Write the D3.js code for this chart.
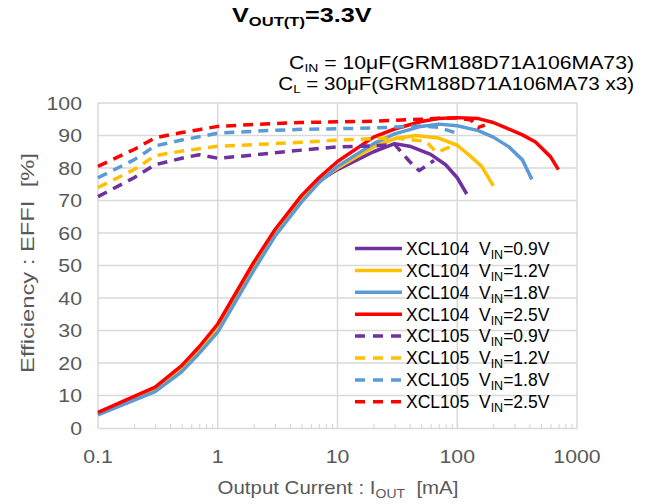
<!DOCTYPE html>
<html><head><meta charset="utf-8">
<script src="https://cdn.jsdelivr.net/npm/d3@7"></script>
<style>
body{margin:0;background:#fff;}
svg{display:block;font-family:"Liberation Sans",Arial,sans-serif;}
</style>
</head><body>
<svg id="c" width="653" height="504" xml:space="preserve"></svg>
<script>
// ---------- data ----------
const xTicks = [0.1, 1, 10, 100, 1000];
const xTickLabels = ["0.1", "1", "10", "100", "1000"];
const yTicks = [0, 10, 20, 30, 40, 50, 60, 70, 80, 90, 100];
const yTickLabels = ["0", "10", "20", "30", "40", "50", "60", "70", "80", "90", "100"];

const seriesDevice = ["XCL104", "XCL104", "XCL104", "XCL104", "XCL105", "XCL105", "XCL105", "XCL105"];
const seriesVin = ["0.9V", "1.2V", "1.8V", "2.5V", "0.9V", "1.2V", "1.8V", "2.5V"];

// XCL104 (solid)
const cur104_09 = [0.1, 0.3, 0.5, 0.7, 1, 2, 3, 5, 7, 10, 20, 30, 40, 60, 80, 100, 120];
const eff104_09 = [4.4, 12, 18.5, 24, 31, 50, 60, 70.5, 76, 79.5, 85, 87.5, 86.7, 84.2, 81, 77, 72];
const cur104_12 = [0.1, 0.3, 0.5, 0.7, 1, 2, 3, 5, 7, 10, 20, 30, 45, 70, 100, 130, 160, 200];
const eff104_12 = [4.4, 12, 18.5, 24, 31, 50, 60, 70.5, 76, 80, 86.5, 89, 90, 89.2, 87, 83.5, 80.5, 74.5];
const cur104_18 = [0.1, 0.3, 0.5, 0.7, 1, 2, 3, 5, 7, 10, 20, 30, 50, 70, 100, 150, 200, 270, 350, 420];
const eff104_18 = [4.0, 11.2, 17.3, 23, 29.5, 48.5, 59, 69.5, 75.5, 80.5, 87.5, 90.5, 92.8, 93.5, 93, 91.5, 89.5, 86.5, 82.5, 76.5];
const cur104_25 = [0.1, 0.3, 0.5, 0.7, 1, 2, 3, 5, 7, 10, 20, 30, 50, 70, 100, 150, 200, 250, 350, 450, 600, 700];
const eff104_25 = [4.8, 12.6, 19.2, 25, 32, 51, 61, 71.5, 77, 82, 89.5, 92, 94.3, 95.2, 95.5, 95.2, 94, 92.5, 90.2, 88, 83.5, 79.5];

// XCL105 (dashed)
const cur105_09 = [0.1, 0.2, 0.3, 0.5, 0.7, 1, 2, 3, 5, 10, 20, 30, 40, 48, 64];
const eff105_09 = [71.2, 77, 81, 83, 84.1, 83, 84, 84.7, 85.5, 86.5, 86.8, 87.3, 82, 79.2, 82.3];
const cur105_12 = [0.1, 0.2, 0.3, 0.5, 0.7, 1, 2, 3, 5, 10, 20, 30, 55, 67, 95];
const eff105_12 = [74, 79.5, 83.8, 85.2, 85.9, 86.7, 87.2, 87.5, 87.9, 88.6, 89, 89.2, 88.2, 84.8, 87];
const cur105_18 = [0.1, 0.2, 0.3, 0.5, 0.7, 1, 2, 3, 5, 10, 20, 30, 50, 70, 100];
const eff105_18 = [77, 82.5, 86.8, 88.6, 89.6, 90.7, 91.3, 91.6, 91.9, 92.1, 92.3, 92.6, 92.9, 92.5, 90.7];
const cur105_25 = [0.1, 0.2, 0.3, 0.5, 0.7, 1, 2, 3, 5, 10, 20, 30, 50, 70, 100, 130, 150, 170];
const eff105_25 = [80.5, 85.7, 89.3, 90.9, 91.8, 92.8, 93.4, 93.7, 94, 94.2, 94.4, 94.7, 95, 95.3, 95.4, 94.8, 92.5, 93.2];

const seriesCur = [cur104_09, cur104_12, cur104_18, cur104_25, cur105_09, cur105_12, cur105_18, cur105_25];
const seriesEff = [eff104_09, eff104_12, eff104_18, eff104_25, eff105_09, eff105_12, eff105_18, eff105_25];

// ---------- styles ----------
const colors = ["#7030A0", "#FFC000", "#5B9BD5", "#FF0000", "#7030A0", "#FFC000", "#5B9BD5", "#FF0000"];
const dashed = [false, false, false, false, true, true, true, true];
const GRID = "#d9d9d9";
const TXT = "#595959";

const svg = d3.select("#c");
const x = d3.scaleLog().domain([0.1, 1000]).range([98, 577]);
const y = d3.scaleLinear().domain([0, 100]).range([428, 103]);

// text helper with horizontal stretch
function label(x0, y0, parts, o) {
  const g = svg.append("g").attr("transform", `translate(${x0},${y0}) rotate(${o.rot || 0})`);
  const inner = g.append("g");
  const t = inner.append("text")
    .attr("text-anchor", o.anchor || "start")
    .attr("fill", o.fill || "#000")
    .style("font-size", o.size + "px")
    .style("font-weight", o.bold ? "bold" : "normal")
    .style("white-space", "pre");
  let sub = false;
  parts.forEach(([s, isSub]) => {
    const ts = t.append("tspan").text(s);
    if (isSub) ts.style("font-size", o.subSize + "px");
    if (isSub && !sub) ts.attr("dy", o.subDy);
    if (!isSub && sub) ts.attr("dy", -o.subDy);
    sub = isSub;
  });
  if (o.width) {
    const w = t.node().getBBox().width;
    inner.attr("transform", `scale(${o.width / w},1)`);
  } else if (o.k) {
    inner.attr("transform", `scale(${o.k},1)`);
  }
  return t;
}

// ---------- grid ----------
const gh = svg.append("g");
gh.selectAll("line").data(yTicks.filter(v => v > 0)).join("line")
  .attr("x1", x(0.1)).attr("x2", x(1000))
  .attr("y1", d => y(d)).attr("y2", d => y(d))
  .attr("stroke", GRID).attr("stroke-width", 1.5);
const gv = svg.append("g");
gv.selectAll("line").data(xTicks).join("line")
  .attr("x1", d => x(d)).attr("x2", d => x(d))
  .attr("y1", y(0)).attr("y2", y(100))
  .attr("stroke", GRID).attr("stroke-width", 1.5);

// bottom axis with minor inside ticks
const minor = [];
[0.1, 1, 10, 100].forEach(dec => { for (let m = 2; m <= 9; m++) minor.push(dec * m); });
const ax = svg.append("g").attr("transform", `translate(0,${y(0)})`)
  .call(d3.axisBottom(x).tickValues(minor).tickSizeInner(-4).tickSizeOuter(0).tickFormat(""));
ax.select(".domain").attr("stroke", GRID).attr("stroke-width", 1.5);
ax.selectAll(".tick line").attr("stroke", GRID).attr("stroke-width", 1.2);

// ---------- tick labels ----------
xTicks.forEach((v, i) => label(x(v), 463, [[xTickLabels[i], false]], {size: 18.5, anchor: "middle", fill: TXT, k: 1.15}));
yTicks.forEach((v, i) => label(82, y(v) + 6.5, [[yTickLabels[i], false]], {size: 18.5, anchor: "end", fill: TXT, k: 1.15}));

// ---------- series ----------
const line = d3.line().x(d => x(d[0])).y(d => y(d[1]));
const gl = svg.append("g").attr("fill", "none");
seriesCur.forEach((cur, i) => {
  const pts = cur.map((c, j) => [c, seriesEff[i][j]]);
  gl.append("path").datum(pts).attr("d", line)
    .attr("stroke", colors[i]).attr("stroke-width", 3.5)
    .attr("stroke-linejoin", "round")
    .attr("stroke-dasharray", dashed[i] ? "10,7" : null);
});

// ---------- legend ----------
const lg = svg.append("g");
seriesDevice.forEach((dev, i) => {
  const cy = 248.5 + 21.9 * i;
  lg.append("line").attr("x1", 355).attr("x2", 402).attr("y1", cy).attr("y2", cy)
    .attr("stroke", colors[i]).attr("stroke-width", 3.5)
    .attr("stroke-dasharray", dashed[i] ? "10,8" : null);
  label(406, cy + 6.3, [[dev + "  V", false], ["IN", true], ["=" + seriesVin[i], false]],
    {size: 17.5, subSize: 12.5, subDy: 4, fill: "#000"});
});

// ---------- titles ----------
label(232, 22, [["V", false], ["OUT(T)", true], ["=3.3V", false]],
  {size: 20.5, subSize: 13.5, subDy: 4, bold: true, fill: "#000", width: 140});
label(634, 68.5, [["C", false], ["IN", true], [" = 10μF(GRM188D71A106MA73)", false]],
  {size: 17.5, subSize: 11.5, subDy: 3, anchor: "end", fill: "#000", width: 345});
label(634, 89.5, [["C", false], ["L", true], [" = 30μF(GRM188D71A106MA73 x3)", false]],
  {size: 17.5, subSize: 11.5, subDy: 3, anchor: "end", fill: "#000", width: 356});

label(338, 494, [["Output Current : I", false], ["OUT", true], ["  [mA]", false]],
  {size: 19, subSize: 13, subDy: 4, anchor: "middle", fill: TXT, width: 241});
label(34, 263, [["Efficiency : EFFI  [%]", false]],
  {size: 19, anchor: "middle", fill: TXT, rot: -90, width: 220});
</script>
</body></html>
